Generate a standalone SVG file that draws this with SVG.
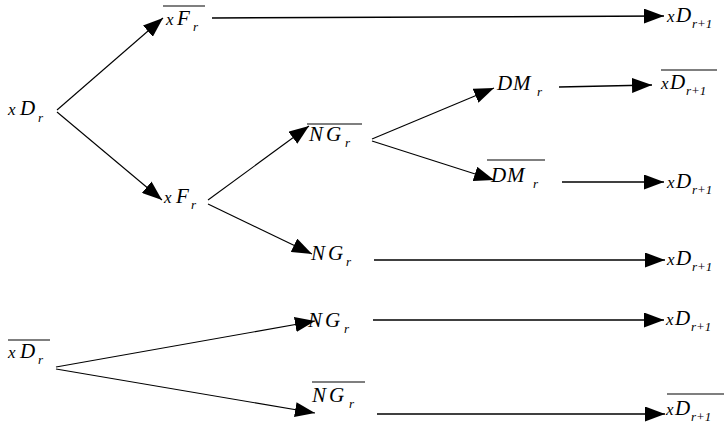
<svg xmlns="http://www.w3.org/2000/svg" width="724" height="425" viewBox="0 0 724 425">
<style>
text{font-family:"Liberation Serif","Times New Roman",serif;font-style:italic;fill:#000;font-size:21px}
.x{font-size:17px}
.s{font-size:13px}
.ov{stroke:#000;stroke-width:1.2}
.c{stroke:#000;stroke-width:1.1;fill:none;marker-end:url(#ah)}
.h{stroke-width:1.5}
</style>
<defs>
<marker id="ah" markerUnits="userSpaceOnUse" markerWidth="20" markerHeight="15" refX="20" refY="7.5" orient="auto">
<path d="M0,0 L20,7.5 L0,15 z" fill="#000"/>
</marker>
</defs>
<rect width="724" height="425" fill="#fff"/>
<g id="connectors">
<line class="c" x1="57" y1="110" x2="163" y2="18"/>
<line class="c" x1="57" y1="112" x2="162" y2="200"/>
<line class="c" x1="208" y1="200" x2="309" y2="126"/>
<line class="c" x1="208" y1="204" x2="312" y2="254"/>
<line class="c" x1="372" y1="139" x2="494" y2="88"/>
<line class="c" x1="372" y1="141" x2="494" y2="180"/>
<line class="c" x1="56" y1="367" x2="315" y2="321"/>
<line class="c" x1="56" y1="369" x2="315" y2="413"/>
<line class="c h" x1="212" y1="18" x2="664" y2="16"/>
<line class="c h" x1="559" y1="87" x2="652" y2="85"/>
<line class="c h" x1="562" y1="182" x2="664" y2="182"/>
<line class="c h" x1="374" y1="260" x2="665" y2="260"/>
<line class="c h" x1="373" y1="320" x2="664" y2="320"/>
<line class="c h" x1="377" y1="414" x2="665" y2="414"/>
</g>
<g id="xDr"><text><tspan class="x" x="8" y="115">x</tspan><tspan x="20" y="115">D</tspan><tspan class="s" x="38" y="122">r</tspan></text></g>
<g id="xFr-bar"><line class="ov" x1="163" y1="6" x2="205" y2="6"/><text><tspan class="x" x="166" y="25">x</tspan><tspan x="177" y="25">F</tspan><tspan class="s" x="193" y="31">r</tspan></text></g>
<g id="xFr"><text><tspan class="x" x="164" y="203">x</tspan><tspan x="176" y="203">F</tspan><tspan class="s" x="191" y="209">r</tspan></text></g>
<g id="NGr-bar-1"><line class="ov" x1="307" y1="124" x2="362" y2="124"/><text><tspan x="309" y="141">N</tspan><tspan x="326" y="141">G</tspan><tspan class="s" x="345" y="147">r</tspan></text></g>
<g id="NGr-1"><text><tspan x="311" y="260">N</tspan><tspan x="328" y="260">G</tspan><tspan class="s" x="346" y="266">r</tspan></text></g>
<g id="DMr"><text><tspan x="497" y="90">D</tspan><tspan x="513" y="90">M</tspan><tspan class="s" x="537" y="96">r</tspan></text></g>
<g id="DMr-bar"><line class="ov" x1="487" y1="160" x2="545" y2="160"/><text><tspan x="491" y="182">D</tspan><tspan x="507" y="182">M</tspan><tspan class="s" x="533" y="188">r</tspan></text></g>
<g id="xDr-bar"><line class="ov" x1="8" y1="340" x2="50" y2="340"/><text><tspan class="x" x="8" y="358">x</tspan><tspan x="20" y="358">D</tspan><tspan class="s" x="38" y="364">r</tspan></text></g>
<g id="NGr-2"><text><tspan x="308" y="327">N</tspan><tspan x="325" y="327">G</tspan><tspan class="s" x="344" y="333">r</tspan></text></g>
<g id="NGr-bar-2"><line class="ov" x1="312" y1="382" x2="365" y2="382"/><text><tspan x="312" y="402">N</tspan><tspan x="329" y="402">G</tspan><tspan class="s" x="349" y="408">r</tspan></text></g>
<g id="xDr1-a"><text><tspan class="x" x="667" y="22">x</tspan><tspan x="676" y="22">D</tspan><tspan class="s" x="692" y="28">r+1</tspan></text></g>
<g id="xDr1-bar-a"><line class="ov" x1="661" y1="70" x2="717" y2="70"/><text><tspan class="x" x="661" y="89">x</tspan><tspan x="670" y="89">D</tspan><tspan class="s" x="686" y="95">r+1</tspan></text></g>
<g id="xDr1-b"><text><tspan class="x" x="667" y="188">x</tspan><tspan x="676" y="188">D</tspan><tspan class="s" x="692" y="194">r+1</tspan></text></g>
<g id="xDr1-c"><text><tspan class="x" x="667" y="265">x</tspan><tspan x="676" y="265">D</tspan><tspan class="s" x="692" y="271">r+1</tspan></text></g>
<g id="xDr1-d"><text><tspan class="x" x="666" y="325">x</tspan><tspan x="675" y="325">D</tspan><tspan class="s" x="691" y="331">r+1</tspan></text></g>
<g id="xDr1-bar-b"><line class="ov" x1="667" y1="394" x2="724" y2="394"/><text><tspan class="x" x="666" y="415">x</tspan><tspan x="675" y="415">D</tspan><tspan class="s" x="691" y="421">r+1</tspan></text></g>
</svg>
